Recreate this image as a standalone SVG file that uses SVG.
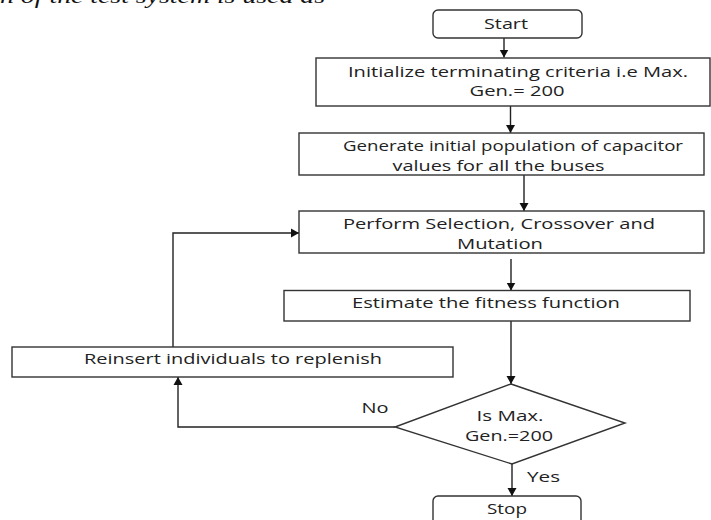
<svg xmlns="http://www.w3.org/2000/svg" width="711" height="520" viewBox="0 0 711 520">
<defs>
<marker id="ah" markerUnits="userSpaceOnUse" markerWidth="10" markerHeight="10" refX="8" refY="5" orient="auto">
<path d="M0,0.5 L8,5 L0,9.5 z" fill="#111"/>
</marker>
<style>
.box{fill:#fff;stroke:#333;stroke-width:1.4}
.t{font-family:"Open Sans","Liberation Sans",sans-serif;font-size:14.5px;fill:#222;text-anchor:middle}
.c{fill:none;stroke:#222;stroke-width:1.4;marker-end:url(#ah)}
.p{font-family:"Liberation Serif",serif;font-style:italic;font-size:20px;fill:#111}
</style>
</defs>
<rect width="711" height="520" fill="#fff"/>
<text class="p" x="0" y="3" textLength="325" lengthAdjust="spacingAndGlyphs">n of the test system is used as</text>
<g id="connectors">
<path class="c" d="M504,38 V57.5"/>
<path class="c" d="M510.5,106 V133"/>
<path class="c" d="M524,175 V211"/>
<path class="c" d="M511,259 V290.5"/>
<path class="c" d="M511,321 V384"/>
<path class="c" d="M512,464 V496"/>
<path class="c" d="M395,427 H178 V377"/>
<path class="c" d="M173,347 V233 H299"/>
</g>
<g id="start">
<rect class="box" x="433" y="10" width="149" height="28" rx="5"/>
<text class="t" x="506" y="29" textLength="44" lengthAdjust="spacingAndGlyphs">Start</text>
</g>
<g id="init">
<rect class="box" x="316" y="58" width="394" height="48"/>
<text class="t" x="518" y="76.5" textLength="340" lengthAdjust="spacingAndGlyphs">Initialize terminating criteria i.e Max.</text>
<text class="t" x="517" y="96" textLength="95" lengthAdjust="spacingAndGlyphs">Gen.= 200</text>
</g>
<g id="generate">
<rect class="box" x="299" y="133" width="405" height="42"/>
<text class="t" x="513" y="151" textLength="340" lengthAdjust="spacingAndGlyphs">Generate initial population of capacitor</text>
<text class="t" x="498.5" y="171" textLength="212" lengthAdjust="spacingAndGlyphs">values for all the buses</text>
</g>
<g id="perform">
<rect class="box" x="299" y="211" width="405" height="42"/>
<text class="t" x="499" y="229" textLength="312" lengthAdjust="spacingAndGlyphs">Perform Selection, Crossover and</text>
<text class="t" x="500" y="249" textLength="86" lengthAdjust="spacingAndGlyphs">Mutation</text>
</g>
<g id="estimate">
<rect class="box" x="284" y="290.5" width="406" height="30.5"/>
<text class="t" x="486" y="307.5" textLength="268" lengthAdjust="spacingAndGlyphs">Estimate the fitness function</text>
</g>
<g id="reinsert">
<rect class="box" x="12" y="347" width="441" height="30"/>
<text class="t" x="233" y="363.5" textLength="298" lengthAdjust="spacingAndGlyphs">Reinsert individuals to replenish</text>
</g>
<g id="decision">
<polygon class="box" points="511,384 625,423 512,464 395,427"/>
<text class="t" x="510" y="421" textLength="67" lengthAdjust="spacingAndGlyphs">Is Max.</text>
<text class="t" x="509" y="440.5" textLength="88" lengthAdjust="spacingAndGlyphs">Gen.=200</text>
</g>
<g id="labels">
<text class="t" x="375" y="412.5" textLength="27" lengthAdjust="spacingAndGlyphs">No</text>
<text class="t" x="543.5" y="482" textLength="33" lengthAdjust="spacingAndGlyphs">Yes</text>
</g>
<g id="stop">
<rect class="box" x="433" y="496" width="148" height="34" rx="5"/>
<text class="t" x="507" y="514" textLength="40" lengthAdjust="spacingAndGlyphs">Stop</text>
</g>
</svg>
